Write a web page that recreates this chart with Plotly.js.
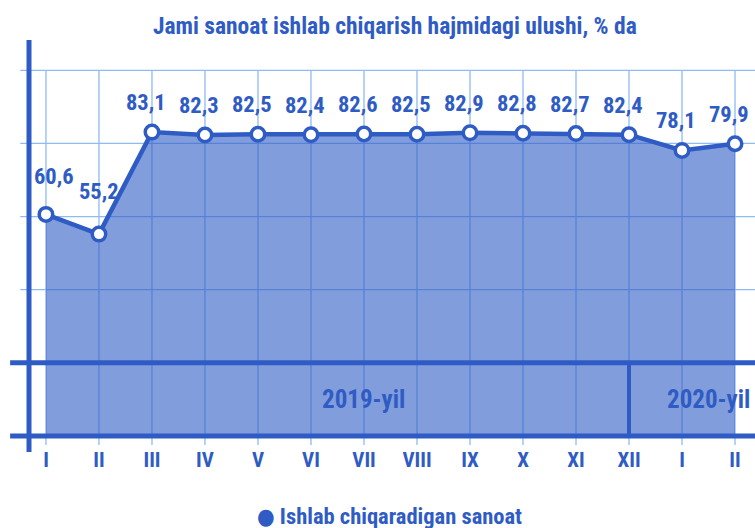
<!DOCTYPE html>
<html>
<head>
<meta charset="utf-8">
<script src="https://cdn.plot.ly/plotly-3.0.1.min.js"></script>
<style>html,body{margin:0;padding:0;background:#fff;}#chart{width:755px;height:528px;}</style>
</head>
<body>
<div id="chart"></div>
<script>
// ---- data ----
var months = ["I","II","III","IV","V","VI","VII","VIII","IX","X","XI","XII","I","II"];
var values = [60.6, 55.2, 83.1, 82.3, 82.5, 82.4, 82.6, 82.5, 82.9, 82.8, 82.7, 82.4, 78.1, 79.9];
var valueLabels = ["60,6","55,2","83,1","82,3","82,5","82,4","82,6","82,5","82,9","82,8","82,7","82,4","78,1","79,9"];
var years = ["2019-yil", "2020-yil"];
var seriesName = "Ishlab chiqaradigan sanoat";
var titleText = "Jami sanoat ishlab chiqarish hajmidagi ulushi, % da";
var gridValues = [40, 60, 80, 100];
var bandValues = [0, 20];

// ---- styling ----
var FONT = "'Liberation Sans Narrow', 'Arial Narrow', 'Roboto Condensed', 'DejaVu Sans Condensed', sans-serif";
var BLUE = "#2f5cc4";
var GRID = "#8fbaf5";
var idx = months.map(function(_, i){ return i; });

var trace = {
  x: idx, y: values, type: "scatter", mode: "lines+markers",
  name: seriesName, fill: "tozeroy", fillcolor: "rgba(47,92,196,0.6)",
  line: {color: BLUE, width: 4.5},
  marker: {size: 13.5, color: "#ffffff", line: {color: BLUE, width: 3.5}},
  showlegend: false, hoverinfo: "skip", cliponaxis: false
};

var shapes = [];
gridValues.forEach(function(v){
  shapes.push({type:"line", layer:"below", xref:"paper", yref:"y", x0:-0.012, x1:1, y0:v, y1:v, line:{color:GRID, width:1.3}});
});
idx.forEach(function(i){
  shapes.push({type:"line", layer:"below", xref:"x", yref:"y", x0:i, x1:i, y0:-2.5, y1:100, line:{color:GRID, width:1.3}});
});
bandValues.forEach(function(v){
  shapes.push({type:"line", layer:"above", xref:"paper", yref:"y", x0:-0.026, x1:1, y0:v, y1:v, line:{color:BLUE, width:5}});
});
shapes.push({type:"line", layer:"above", xref:"x", yref:"y", x0:11, x1:11, y0:0, y1:20, line:{color:BLUE, width:4}});
shapes.push({type:"line", layer:"above", xref:"paper", yref:"paper", x0:0, x1:0, y0:0, y1:1, line:{color:BLUE, width:5}});

var annotations = [];
values.forEach(function(v, i){
  var xs = -6, ys = 30;
  if (i === 0) { xs = 8; ys = 38; }
  if (i === 1) { xs = 0; ys = 43; }
  annotations.push({x:i, y:v, xref:"x", yref:"y", text:valueLabels[i], showarrow:false,
    xshift:xs, yshift:ys, font:{family:FONT, size:22.5, color:BLUE, weight:"bold"}});
});
annotations.push({x:6, y:10, xref:"x", yref:"y", text:years[0], showarrow:false,
  font:{family:FONT, size:25, color:BLUE, weight:"bold"}});
annotations.push({x:12.5, y:10, xref:"x", yref:"y", text:years[1], showarrow:false,
  font:{family:FONT, size:25, color:BLUE, weight:"bold"}});
annotations.push({x: 0.497, y: -0.155, xref: "paper", yref: "paper", xanchor: "center", yanchor: "middle",
  text: "● " + seriesName, showarrow: false,
  font: {family: FONT, size: 22.5, color: BLUE, weight: "bold"}});

var layout = {
  width: 755, height: 528,
  margin: {l:29, r:0, t:40, b:76},
  paper_bgcolor: "#ffffff", plot_bgcolor: "#ffffff",
  title: {text: titleText, x: 0.523, xanchor: "center", y: 0.952, yanchor: "middle",
    font: {family: FONT, size: 23.5, color: BLUE, weight: "bold"}},
  xaxis: {range: [-0.32, 13.377], tickmode: "array", tickvals: idx, ticktext: months,
    showgrid: false, zeroline: false, showline: false, ticks: "", fixedrange: true,
    ticklabelstandoff: -7,
    tickfont: {family: FONT, size: 21, color: BLUE, weight: "bold"}},
  yaxis: {range: [-4.4, 108.3], showgrid: false, zeroline: false, showline: false,
    showticklabels: false, ticks: "", fixedrange: true},
  shapes: shapes,
  annotations: annotations,
  showlegend: false
};

Plotly.newPlot("chart", [trace], layout, {displayModeBar: false, staticPlot: true});
</script>
</body>
</html>
